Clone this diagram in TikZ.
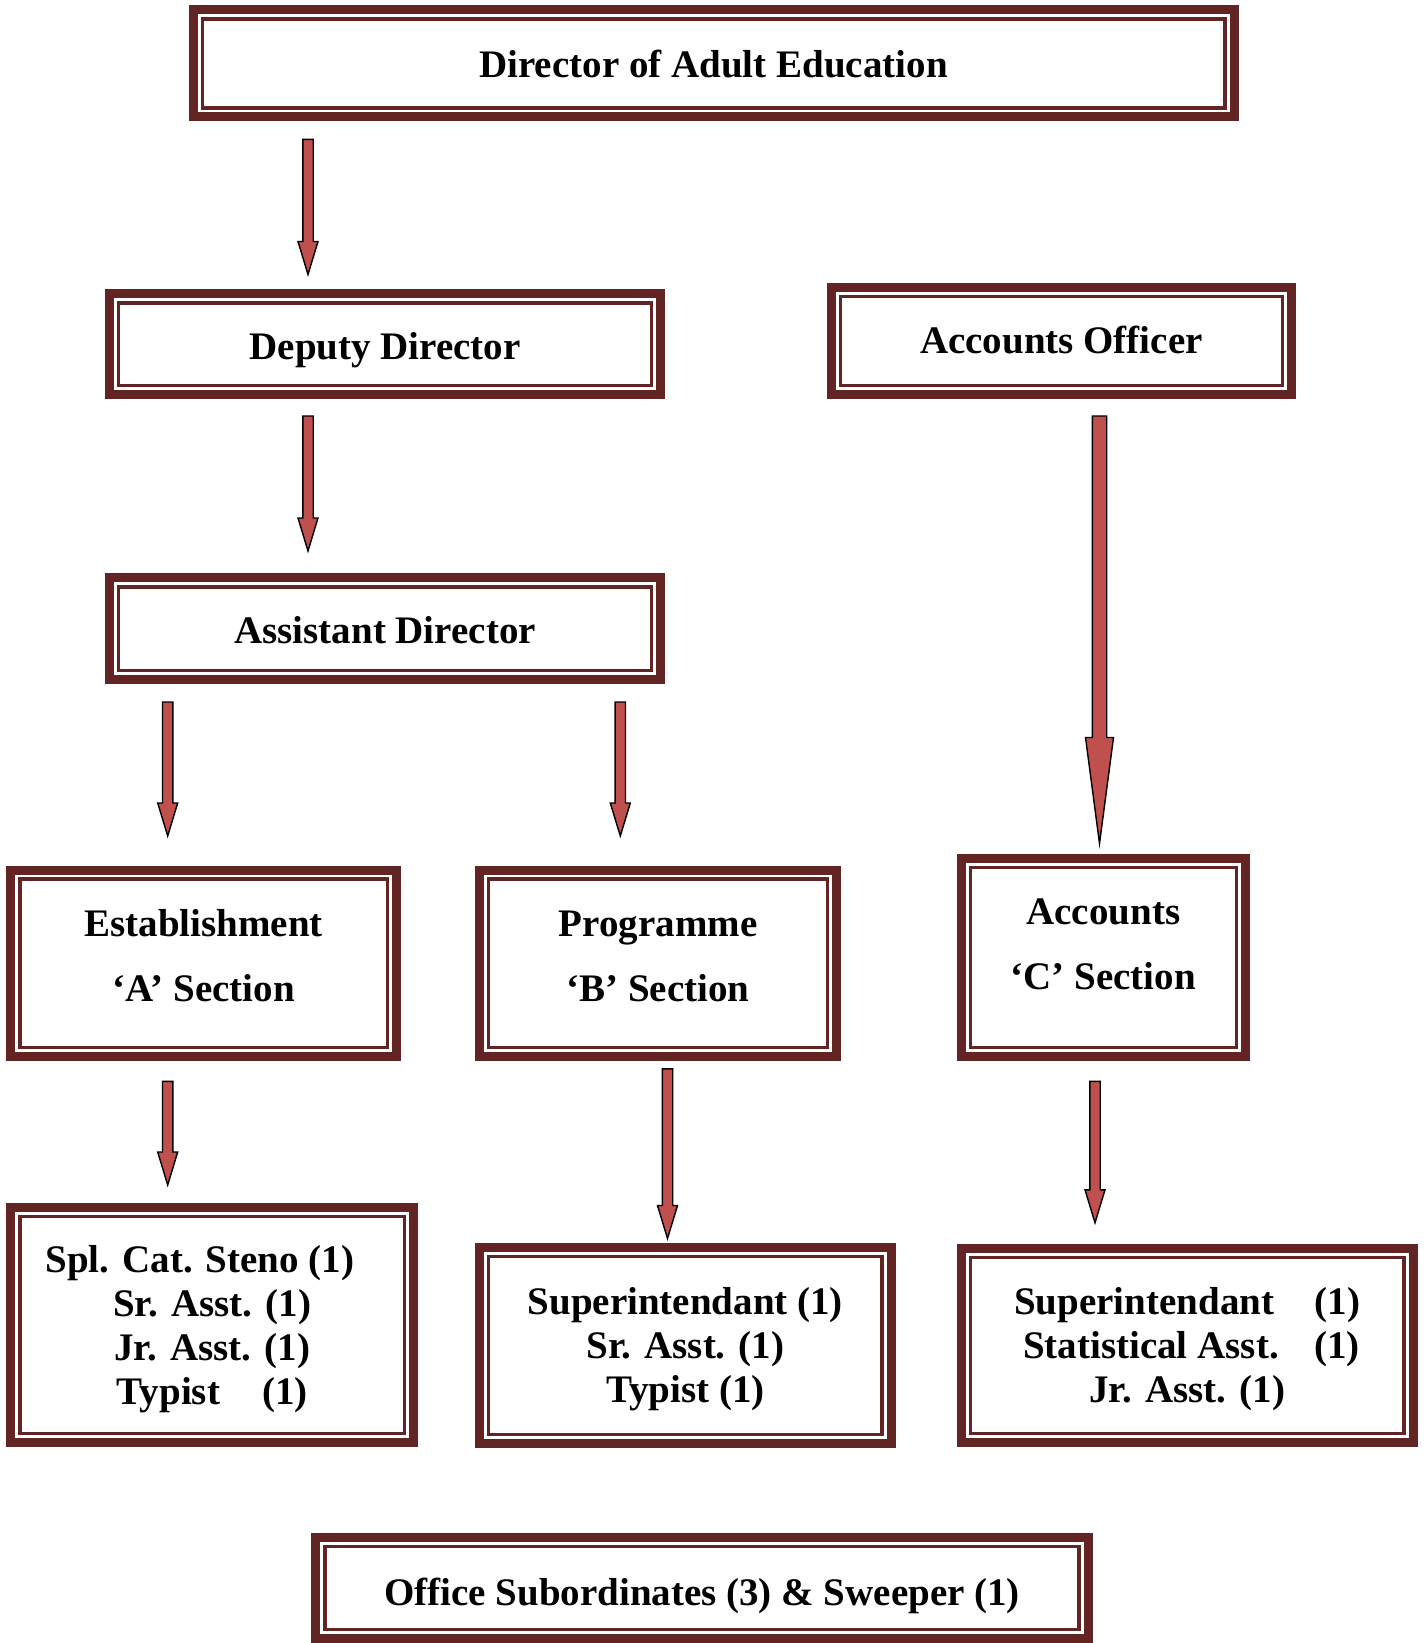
\documentclass[tikz,border=0pt]{standalone}
\usepackage{fontspec}
\setmainfont{Liberation Serif}
\usetikzlibrary{calc}
\definecolor{OrgMaroon}{HTML}{632523}
\definecolor{ArrowRed}{HTML}{C0504D}

\newcommand{\innerframe}[1]{%
  \draw[OrgMaroon,line width=1.75pt] ($(#1.north west)+(9.2,9.2)$) rectangle ($(#1.south east)+(-9.2,-9.2)$);}
\newcommand{\blockarrow}[5]{% from, to, half shaft, half head, head length
  \draw[fill=ArrowRed,draw=black,line width=.7pt] let \p1=(#1), \p2=(#2) in
    (\x1-#3,\y1) -- (\x1+#3,\y1) -- (\x1+#3,\y2+#5) -- (\x1+#4,\y2+#5) -- (\x1,\y2)
    -- (\x1-#4,\y2+#5) -- (\x1-#3,\y2+#5) -- cycle;}

\begin{document}
\begin{tikzpicture}[x=.5pt,y=-.5pt,font=\bfseries\fontsize{19.5}{22}\selectfont]
  \tikzset{
    frame/.style={draw=OrgMaroon,line width=4.5pt,fill=white,inner sep=0pt,outer sep=0pt},
    txt/.style={align=center,inner sep=0pt}
  }
  \useasboundingbox (0,0) rectangle (1424,1643);

  \node[frame,minimum width=520.45pt,minimum height=53.65pt] (dir) at (713.55,63.35) {};
  \node[frame,minimum width=275.8pt,minimum height=50.5pt] (dep) at (385.1,344.2) {};
  \node[frame,minimum width=230.2pt,minimum height=53.65pt] (acco) at (1061.4,341.05) {};
  \node[frame,minimum width=275.8pt,minimum height=51pt] (asst) at (385.1,628.7) {};
  \node[frame,minimum width=193pt,minimum height=93.45pt] (estab) at (203.8,963.45) {};
  \node[frame,minimum width=178.85pt,minimum height=93.45pt] (prog) at (658.05,963.45) {};
  \node[frame,minimum width=142.15pt,minimum height=99.2pt] (accsec) at (1103.35,957.7) {};
  \node[frame,minimum width=201.4pt,minimum height=117.55pt] (estlist) at (212.2,1325) {};
  \node[frame,minimum width=206.1pt,minimum height=98.15pt] (proglist) at (685.3,1345.35) {};
  \node[frame,minimum width=226pt,minimum height=97.1pt] (acclist) at (1187.2,1345.4) {};
  \node[frame,minimum width=386.35pt,minimum height=50.5pt] (office) at (702.05,1588) {};

  \foreach \n in {dir,dep,acco,asst,estab,prog,accsec,estlist,proglist,acclist,office}
    {\innerframe{\n}}

  \node[txt] (dirtxt) at ($(dir)+(0,1)$) {Director of Adult Education};
  \node[txt] (deptxt) at ($(dep)+(0,6)$) {Deputy Director};
  \node[txt] (accotxt) at ($(acco)+(0,-1)$) {Accounts Officer};
  \node[txt] (assttxt) at ($(asst)+(0,1)$) {Assistant Director};
  \node[txt] (estabtxt) at ($(estab)+(0,-8)$) {Establishment\\[10.5pt]‘A’ Section};
  \node[txt] (progtxt) at ($(prog)+(0,-7.5)$) {Programme\\[10.5pt]‘B’ Section};
  \node[txt] (accsectxt) at ($(accsec)+(0,-13)$) {Accounts\\[10.5pt]‘C’ Section};
  \node[txt] (estlisttxt) at ($(estlist)+(0,4)$)
    {Spl. Cat. Steno (1)\hspace*{12.4pt}\\Sr. Asst. (1)\\Jr. Asst. (1)\\Typist\hspace{21pt}(1)};
  \node[txt] (proglisttxt) at ($(proglist)+(0,4)$)
    {Superintendant (1)\\Sr. Asst. (1)\\Typist (1)};
  \node[txt] (acclisttxt) at ($(acclist)+(0,3.5)$)
    {Superintendant\hspace{20.3pt}(1)\\\hspace*{4.2pt}Statistical Asst.\hspace{17.7pt}(1)\\Jr. Asst. (1)};
  \node[txt] (officetxt) at ($(office)+(0,8.4)$) {Office Subordinates (3) \& Sweeper (1)};

  \coordinate (a1s) at (308,139.4);   \coordinate (a1e) at (308,274.5);
  \coordinate (a2s) at (308,416);     \coordinate (a2e) at (308,551);
  \coordinate (a3s) at (167.7,702);   \coordinate (a3e) at (167.7,836);
  \coordinate (a4s) at (620.3,702);   \coordinate (a4e) at (620.3,836);
  \coordinate (a5s) at (1099.5,416);  \coordinate (a5e) at (1099.5,843.5);
  \coordinate (a6s) at (167.7,1081.3); \coordinate (a6e) at (167.7,1185);
  \coordinate (a7s) at (667.5,1068.8); \coordinate (a7e) at (667.5,1238.5);
  \coordinate (a8s) at (1095,1081.3); \coordinate (a8e) at (1095,1222.8);

  \foreach \a in {a1,a2,a3,a4,a6,a7,a8}
    {\blockarrow{\a s}{\a e}{2.6pt}{5pt}{16.5pt}}
  \blockarrow{a5s}{a5e}{3.6pt}{7pt}{53pt}
\end{tikzpicture}
\end{document}
